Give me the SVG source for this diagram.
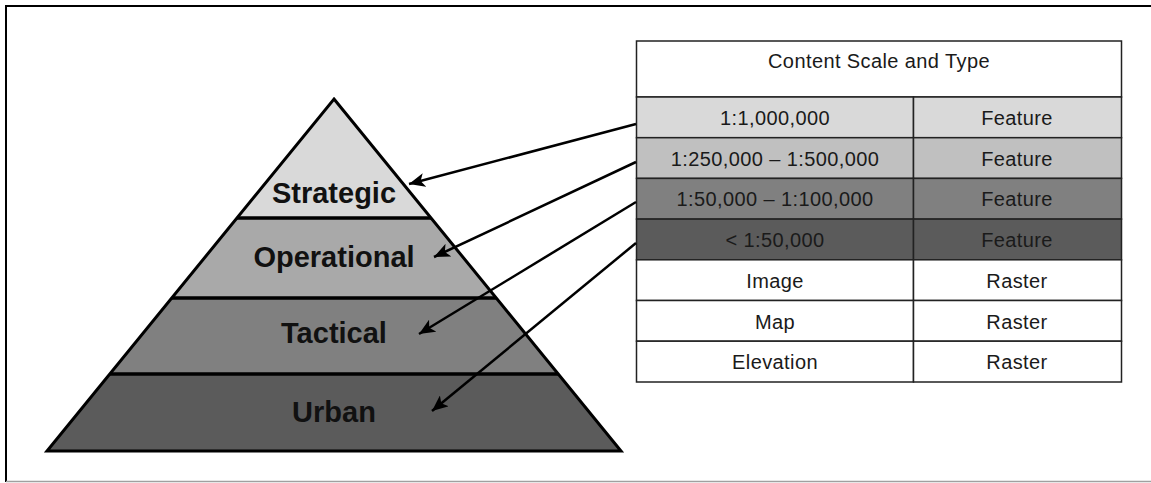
<svg xmlns="http://www.w3.org/2000/svg" width="1151" height="483" viewBox="0 0 1151 483">
<style>
.frame{stroke:#000;stroke-width:2;fill:none}
.band{stroke:none}
.outline{fill:none;stroke:#000;stroke-width:3;stroke-linejoin:miter}
.sep{stroke:#000;stroke-width:3.5}
.lvl{font-family:"Liberation Sans",Arial,sans-serif;font-weight:bold;font-size:29px;fill:#111;text-anchor:middle}
.cell{stroke:#222;stroke-width:1.5}
.tt{font-family:"Liberation Sans",Arial,sans-serif;font-size:20px;fill:#1a1a1a;text-anchor:middle;letter-spacing:0.4px}
.conn{stroke:#000;stroke-width:2.5;fill:none;marker-end:url(#ah)}
</style>
<defs>
<marker id="ah" markerUnits="userSpaceOnUse" markerWidth="18" markerHeight="14" refX="16" refY="7" orient="auto">
<path d="M0,0 L16,7 L0,14 L4,7 Z" fill="#000"/>
</marker>
</defs>
<rect x="0" y="0" width="1151" height="483" fill="#fff"/>
<g id="frame">
<line x1="6" y1="6" x2="1151" y2="6" class="frame"/>
<line x1="6" y1="5" x2="6" y2="482" class="frame"/>
<line x1="6" y1="481.5" x2="1151" y2="481.5" stroke="#a0a0a0" stroke-width="1.5"/>
</g>
<g id="pyramid">
<g id="strategic">
<polygon class="band" fill="#d9d9d9" points="334,99 431,218 237,218"/>
<text class="lvl" x="334" y="203">Strategic</text>
</g>
<g id="operational">
<polygon class="band" fill="#a9a9a9" points="237,218 431,218 496,298 172,298"/>
<text class="lvl" x="334" y="267">Operational</text>
</g>
<g id="tactical">
<polygon class="band" fill="#808080" points="172,298 496,298 558,374 110,374"/>
<text class="lvl" x="334" y="343">Tactical</text>
</g>
<g id="urban">
<polygon class="band" fill="#5b5b5b" points="110,374 558,374 621,451 47,451"/>
<text class="lvl" x="334" y="422">Urban</text>
</g>
<line class="sep" x1="237" y1="218" x2="431" y2="218"/>
<line class="sep" x1="172" y1="298" x2="496" y2="298"/>
<line class="sep" x1="110" y1="374" x2="558" y2="374"/>
<polygon class="outline" points="334,99 621,451 47,451"/>
</g>
<g id="table">
<g id="header">
<rect class="cell" x="636.5" y="41" width="485" height="56" fill="#fff"/>
<text class="tt" x="879" y="68">Content Scale and Type</text>
</g>
<g id="row1">
<rect class="cell" x="636.5" y="97" width="277" height="40.7" fill="#d9d9d9"/>
<rect class="cell" x="913.5" y="97" width="208" height="40.7" fill="#d9d9d9"/>
<text class="tt" x="775" y="125">1:1,000,000</text>
<text class="tt" x="1017" y="125">Feature</text>
</g>
<g id="row2">
<rect class="cell" x="636.5" y="137.7" width="277" height="40.7" fill="#c0c0c0"/>
<rect class="cell" x="913.5" y="137.7" width="208" height="40.7" fill="#c0c0c0"/>
<text class="tt" x="775" y="165.5">1:250,000 – 1:500,000</text>
<text class="tt" x="1017" y="165.5">Feature</text>
</g>
<g id="row3">
<rect class="cell" x="636.5" y="178.4" width="277" height="40.7" fill="#808080"/>
<rect class="cell" x="913.5" y="178.4" width="208" height="40.7" fill="#808080"/>
<text class="tt" x="775" y="206">1:50,000 – 1:100,000</text>
<text class="tt" x="1017" y="206">Feature</text>
</g>
<g id="row4">
<rect class="cell" x="636.5" y="219.1" width="277" height="40.7" fill="#5b5b5b"/>
<rect class="cell" x="913.5" y="219.1" width="208" height="40.7" fill="#5b5b5b"/>
<text class="tt" x="775" y="247">&lt; 1:50,000</text>
<text class="tt" x="1017" y="247">Feature</text>
</g>
<g id="row5">
<rect class="cell" x="636.5" y="259.8" width="277" height="40.7" fill="#fff"/>
<rect class="cell" x="913.5" y="259.8" width="208" height="40.7" fill="#fff"/>
<text class="tt" x="775" y="287.5">Image</text>
<text class="tt" x="1017" y="287.5">Raster</text>
</g>
<g id="row6">
<rect class="cell" x="636.5" y="300.5" width="277" height="40.7" fill="#fff"/>
<rect class="cell" x="913.5" y="300.5" width="208" height="40.7" fill="#fff"/>
<text class="tt" x="775" y="328.5">Map</text>
<text class="tt" x="1017" y="328.5">Raster</text>
</g>
<g id="row7">
<rect class="cell" x="636.5" y="341.2" width="277" height="40.8" fill="#fff"/>
<rect class="cell" x="913.5" y="341.2" width="208" height="40.8" fill="#fff"/>
<text class="tt" x="775" y="369">Elevation</text>
<text class="tt" x="1017" y="369">Raster</text>
</g>
</g>
<g id="connectors">
<line class="conn" x1="636" y1="124" x2="409" y2="184"/>
<line class="conn" x1="636" y1="162" x2="434" y2="257"/>
<line class="conn" x1="636" y1="202" x2="419" y2="334"/>
<line class="conn" x1="636" y1="243" x2="432" y2="411"/>
</g>
</svg>
